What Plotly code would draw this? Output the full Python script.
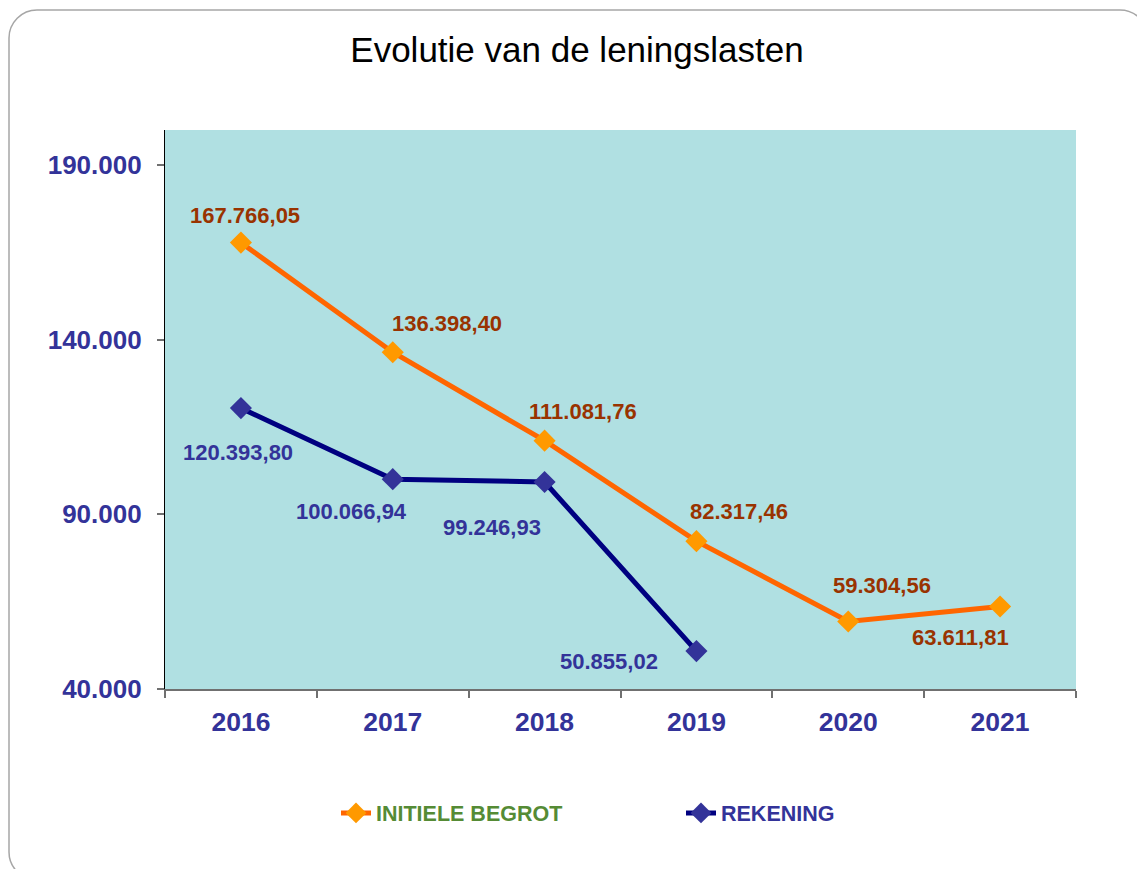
import plotly.graph_objects as go

years = ["2016", "2017", "2018", "2019", "2020", "2021"]
begroting = [167766.05, 136398.40, 111081.76, 82317.46, 59304.56, 63611.81]
rekening_years = ["2016", "2017", "2018", "2019"]
rekening = [120393.80, 100066.94, 99246.93, 50855.02]

title_text = "Evolutie van de leningslasten"
name_begr = "INITIELE BEGROT"
name_rek = "REKENING"

# label offsets (px) relative to each point
off_begr = [(4, 27), (54, 29), (38, 29), (43, 30), (34, 36), (-40, -31)]
off_rek = [(-3, -44), (-41, -32), (-53, -45), (-87, -10)]

W, H = 1137, 869
L, R, T, B = 165, 1076, 130, 689

def fmt(v):
    s = f"{v:,.2f}"
    return s.replace(",", "X").replace(".", ",").replace("X", ".")

def px(x):
    return (x - L) / (R - L)

def py(y):
    return (B - y) / (B - T)

fig = go.Figure()
fig.add_trace(go.Scatter(
    x=years, y=begroting, mode="lines+markers",
    name="<span style='color:#558B35'>" + name_begr + "</span>",
    line=dict(color="#FF6600", width=5),
    marker=dict(symbol="diamond", size=17, color="#FF9900"),
))
fig.add_trace(go.Scatter(
    x=rekening_years, y=rekening, mode="lines+markers",
    name="<span style='color:#333399'>" + name_rek + "</span>",
    line=dict(color="#000080", width=5),
    marker=dict(symbol="diamond", size=17, color="#333399"),
))

ann = []
for x, v, (dx, dy) in zip(years, begroting, off_begr):
    ann.append(dict(x=years.index(x), y=v, xref="x", yref="y", text=fmt(v), showarrow=False,
                    xshift=dx, yshift=dy,
                    font=dict(family="Liberation Sans", size=22, color="#993300", weight="bold")))
for x, v, (dx, dy) in zip(rekening_years, rekening, off_rek):
    ann.append(dict(x=years.index(x), y=v, xref="x", yref="y", text=fmt(v), showarrow=False,
                    xshift=dx, yshift=dy,
                    font=dict(family="Liberation Sans", size=22, color="#333399", weight="bold")))

# rounded border
bl, bt, br, bb, rad = 9, 10, 1148, 880, 28
k = 0.45
path = (
    f"M {px(bl)},{py(bt+rad)} "
    f"C {px(bl)},{py(bt+rad*k)} {px(bl+rad*k)},{py(bt)} {px(bl+rad)},{py(bt)} "
    f"L {px(br-rad)},{py(bt)} "
    f"C {px(br-rad*k)},{py(bt)} {px(br)},{py(bt+rad*k)} {px(br)},{py(bt+rad)} "
    f"L {px(br)},{py(bb-rad)} "
    f"C {px(br)},{py(bb-rad*k)} {px(br-rad*k)},{py(bb)} {px(br-rad)},{py(bb)} "
    f"L {px(bl+rad)},{py(bb)} "
    f"C {px(bl+rad*k)},{py(bb)} {px(bl)},{py(bb-rad*k)} {px(bl)},{py(bb-rad)} Z"
)

fig.update_layout(
    width=W, height=H,
    margin=dict(l=L, r=W - R, t=T, b=H - B),
    paper_bgcolor="white",
    plot_bgcolor="#B0E0E2",
    separators=",.",
    font=dict(family="Liberation Sans"),
    title=dict(text=title_text, x=(577) / W, xanchor="center", y=1 - 50 / H, yanchor="middle",
               font=dict(family="Liberation Sans", size=35, color="black")),
    showlegend=True,
    legend=dict(orientation="h", x=px(336), xanchor="left", y=py(813), yanchor="middle",
                font=dict(family="Liberation Sans", size=21.5, weight="bold"),
                entrywidth=300, entrywidthmode="pixels", bgcolor="rgba(0,0,0,0)"),
    annotations=ann,
    shapes=[dict(type="path", xref="paper", yref="paper", path=path,
                 line=dict(color="#A6A6A6", width=1.5), layer="below")],
    hovermode=False,
)
fig.update_xaxes(
    type="category", categoryorder="array", categoryarray=years,
    range=[-0.5, 5.5], tickson="boundaries",
    ticks="outside", ticklen=7, tickcolor="#707070", tickwidth=1.5,
    showline=True, linecolor="#707070", linewidth=1.5,
    showgrid=False, zeroline=False,
    tickfont=dict(family="Liberation Sans", size=26.5, color="#333399", weight="bold"),
    ticklabelstandoff=8,
)
fig.update_yaxes(
    range=[40000, 200000], tick0=40000, dtick=50000, tickformat=",",
    ticks="outside", ticklen=7, tickcolor="#707070", tickwidth=1.5,
    showline=True, linecolor="black", linewidth=1.2,
    showgrid=False, zeroline=False,
    tickfont=dict(family="Liberation Sans", size=26, color="#333399", weight="bold"),
    ticklabelstandoff=10,
)

fig.write_html("out.html", config={"displayModeBar": False},
               post_script="document.body.style.margin='0';document.body.style.padding='0';")
